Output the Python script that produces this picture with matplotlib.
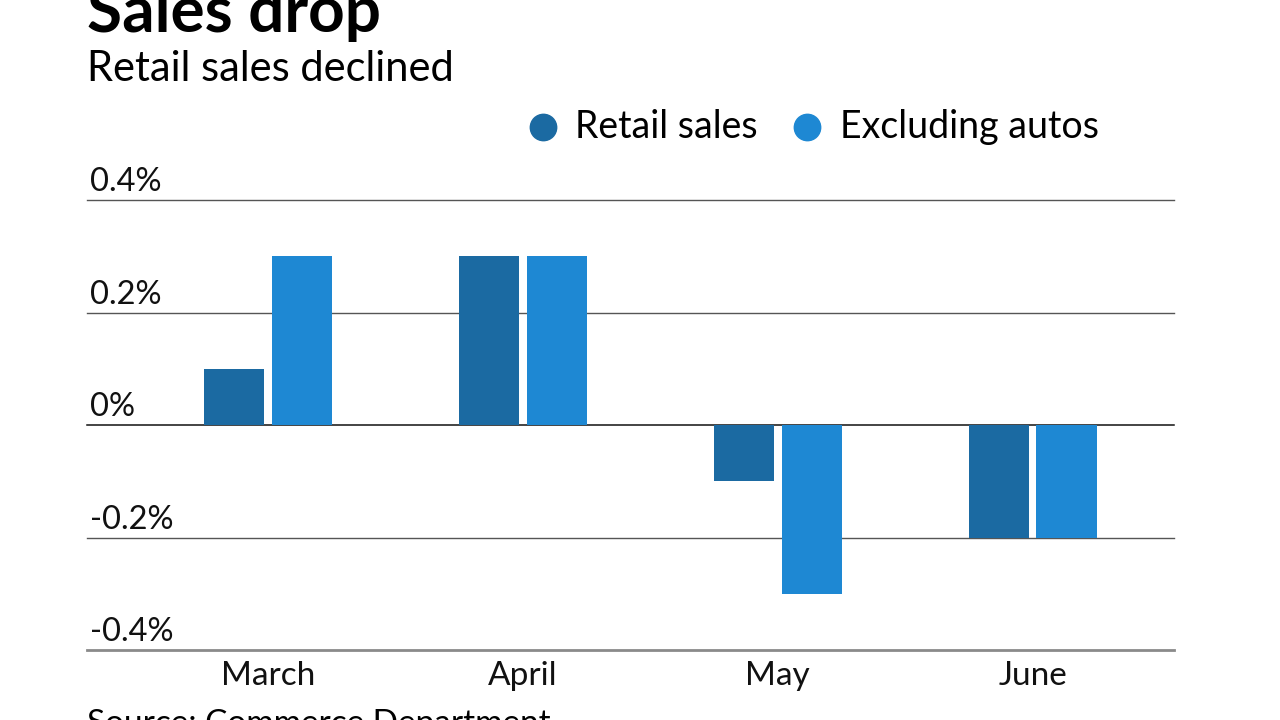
import numpy as np
import matplotlib.pyplot as plt

plt.rcParams['font.family'] = ['Lato', 'DejaVu Sans']

months = ["March", "April", "May", "June"]
retail = [0.1, 0.3, -0.1, -0.2]
ex_autos = [0.3, 0.3, -0.3, -0.2]
y_ticks = [0.4, 0.2, 0.0, -0.2, -0.4]
y_labels = ["0.4%", "0.2%", "0%", "-0.2%", "-0.4%"]

dark = "#1b6aa2"
light = "#1e88d3"

fig = plt.figure(figsize=(12.8, 7.2), dpi=100)
ax = fig.add_axes([0.068, 0.0972, 0.849, 0.625])

x = np.arange(len(months))
w = 0.237
off = 0.133
ax.bar(x - off, retail, w, color=dark, zorder=3)
ax.bar(x + off, ex_autos, w, color=light, zorder=3)

ax.set_xlim(-0.71, 3.553)
ax.set_ylim(-0.4, 0.4)

# gridlines with labels sitting above them
for val, lab in zip(y_ticks, y_labels):
    if val == 0:
        col, lw = "#111111", 1.1
    elif val == y_ticks[-1]:
        col, lw = "#8a8a8a", 2.0
    else:
        col, lw = "#555555", 1.0
    ax.axhline(val, color=col, lw=lw, zorder=2, clip_on=False)
    ax.annotate(lab, xy=(0, val), xycoords=("axes fraction", "data"),
                xytext=(2, 2), textcoords="offset points",
                fontsize=23.5, color="#111111", ha="left", va="bottom")

for s in ax.spines.values():
    s.set_visible(False)
ax.set_yticks([])
ax.set_xticks(x)
ax.set_xticklabels(months, fontsize=24, color="#111111")
ax.tick_params(axis="x", length=0, pad=8)

# title, subtitle, legend, source
fig.text(0.068, 0.955, "Sales drop", fontsize=46, fontweight="bold", ha="left", va="baseline")
fig.text(0.068, 0.888, "Retail sales declined", fontsize=30, ha="left", va="baseline")

fig.lines.append(plt.Line2D([543 / 1280], [1 - 127 / 720], marker="o", ms=19,
                            color=dark, transform=fig.transFigure))
fig.text(575 / 1280, 1 - 127 / 720, "Retail sales", fontsize=27, ha="left", va="center")
fig.lines.append(plt.Line2D([807 / 1280], [1 - 127 / 720], marker="o", ms=19,
                            color=light, transform=fig.transFigure))
fig.text(840 / 1280, 1 - 127 / 720, "Excluding autos", fontsize=27, ha="left", va="center")

fig.text(0.068, -0.018, "Source: Commerce Department", fontsize=24, ha="left", va="baseline")

fig.savefig("out.png", dpi=100)
